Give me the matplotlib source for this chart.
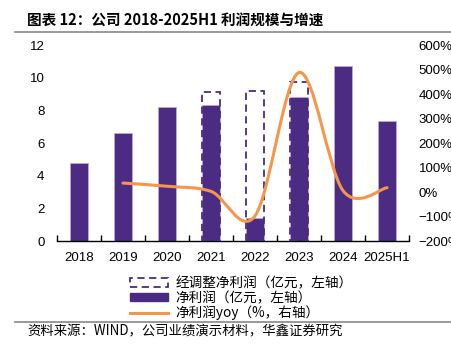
import numpy as np
import matplotlib
matplotlib.use('Agg')
import matplotlib.pyplot as plt
from matplotlib.path import Path
from matplotlib.patches import PathPatch, Patch
from matplotlib.lines import Line2D
from matplotlib.ticker import FuncFormatter

plt.rcParams['font.family'] = ['Noto Sans CJK SC', 'DejaVu Sans']

# Data.
years = ['2018', '2019', '2020', '2021', '2022', '2023', '2024', '2025H1']
net_profit = [4.76, 6.6, 8.22, 8.31, 1.43, 8.8, 10.73, 7.35]
adj_years = ['2021', '2022', '2023']
adj_profit = [9.12, 9.18, 9.74]
yoy_years = ['2019', '2020', '2021', '2022', '2023', '2024', '2025H1']
yoy = [37, 24, 3, -97, 488, 6, 18]

purple = '#4B2C82'
orange = '#F7954A'

def smooth_path(xs, ys):
    # Bezier smoothing like a spreadsheet "smoothed line".
    n = len(xs)
    verts = [(xs[0], ys[0])]
    codes = [Path.MOVETO]
    for i in range(n - 1):
        x0, y0 = (xs[i - 1], ys[i - 1]) if i > 0 else (xs[i], ys[i])
        x3, y3 = (xs[i + 2], ys[i + 2]) if i + 2 < n else (xs[i + 1], ys[i + 1])
        c1 = (xs[i] + (xs[i + 1] - x0) / 6.0, ys[i] + (ys[i + 1] - y0) / 6.0)
        c2 = (xs[i + 1] - (x3 - xs[i]) / 6.0, ys[i + 1] - (y3 - ys[i]) / 6.0)
        verts += [c1, c2, (xs[i + 1], ys[i + 1])]
        codes += [Path.CURVE4] * 3
    return Path(verts, codes)

fig = plt.figure(figsize=(4.52, 3.49), dpi=100)
ax = fig.add_axes([0.126, 0.309, 0.779, 0.562])
ax2 = ax.twinx()

x = np.arange(len(years))
width = 0.39
ax.bar(x, net_profit, width, color=purple, edgecolor='#b9a9d6', linewidth=0.6, zorder=2)
adj_x = [years.index(y) for y in adj_years]
ax.bar(adj_x, adj_profit, width, facecolor='none', edgecolor=purple,
       linestyle=(0, (4, 2.5)), linewidth=1.3, zorder=3)

yoy_x = [years.index(y) for y in yoy_years]
ax2.add_patch(PathPatch(smooth_path(yoy_x, yoy), facecolor='none',
                        edgecolor=orange, linewidth=2.2, capstyle='round', zorder=4))

ax.set_xlim(-0.5, len(years) - 0.5)
ax.set_ylim(0, 12)
ax.set_yticks(range(0, 13, 2))
ax2.set_ylim(-200, 600)
ax2.set_yticks(range(-200, 601, 100))
ax2.yaxis.set_major_formatter(FuncFormatter(lambda v, p: '{:d}%'.format(int(v)).replace('-', '\u2212')))

ax.set_xticks(x)
ax.set_xticklabels(years)
ax.set_xticks(np.arange(-0.5, len(years)), minor=True)
ax.tick_params(axis='x', which='major', length=0, labelsize=9.5, pad=8)
ax.tick_params(axis='x', which='minor', direction='in', length=4, width=1)
ax.tick_params(axis='y', length=0, labelsize=9.5, pad=9)
ax2.tick_params(axis='y', length=0, labelsize=9.5, pad=7)
for lab in ax.get_xticklabels() + ax.get_yticklabels() + ax2.get_yticklabels():
    lab.set_family(['Liberation Sans', 'DejaVu Sans'])

for a in (ax, ax2):
    for s in ('top', 'left', 'right'):
        a.spines[s].set_visible(False)
ax.spines['bottom'].set_linewidth(1)
ax2.spines['bottom'].set_visible(False)

handles = [Patch(facecolor='none', edgecolor=purple, linestyle=(0, (4, 2.5)), linewidth=1.3),
           Patch(facecolor=purple, edgecolor=purple),
           Line2D([0], [0], color=orange, linewidth=2.2)]
labels = ['经调整净利润（亿元，左轴）', '净利润（亿元，左轴）', '净利润yoy（%，右轴）']
fig.legend(handles, labels, loc='upper center', bbox_to_anchor=(0.534, 0.228),
           frameon=False, fontsize=9.8, handlelength=2.8, handleheight=0.6,
           labelspacing=0.05, borderpad=0, handletextpad=0.5)

fig.text(0.06, 0.94, '图表 12：公司 2018-2025H1 利润规模与增速', fontsize=10.5,
         fontweight='bold', va='center', ha='left')
fig.add_artist(Line2D([0.033, 1.0], [0.908, 0.908], color='#888888', linewidth=1.2))
fig.add_artist(Line2D([0.033, 1.0], [0.077, 0.077], color='#888888', linewidth=1.2))
fig.text(0.06, 0.05, '资料来源：WIND，公司业绩演示材料，华鑫证券研究', fontsize=9.6,
         va='center', ha='left')

fig.savefig('out.png', dpi=100)
